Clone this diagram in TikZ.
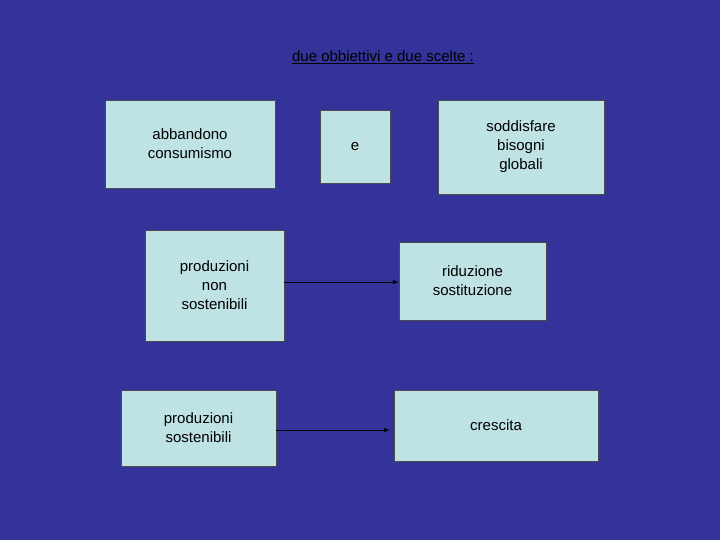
\documentclass[tikz,border=0pt]{standalone}
\usepackage{fontspec}
\setmainfont{Liberation Sans}
\definecolor{bg}{HTML}{333399}
\definecolor{boxc}{HTML}{BFE2E4}
\begin{document}
\begin{tikzpicture}[x=1pt,y=-1pt,
  bx/.style={draw=black!70,fill=boxc,line width=0.6pt,align=center,font=\fontsize{15}{19}\selectfont,inner sep=0pt},
  arr/.style={-latex,line width=0.9pt,black}]
\fill[bg] (0,0) rectangle (720,540);
\useasboundingbox (0,0) rectangle (720,540);
\node[font=\fontsize{15}{18}\selectfont] (t) at (383,57) {\underline{due obbiettivi e due scelte :}};
\node[bx,minimum width=170pt,minimum height=88pt] (a) at (190,144) {abbandono\\consumismo};
\node[bx,minimum width=70pt,minimum height=73pt] (e) at (355,146.5) {e};
\node[bx,minimum width=166pt,minimum height=94pt] (s) at (521,147) {soddisfare\\bisogni\\globali};
\node[bx,minimum width=139pt,minimum height=111pt] (pn) at (214.5,285.5) {produzioni\\non\\sostenibili};
\node[bx,minimum width=147pt,minimum height=78pt] (r) at (472.5,281) {riduzione\\sostituzione};
\node[bx,minimum width=155pt,minimum height=76pt] (ps) at (198.5,428) {produzioni\\sostenibili};
\node[bx,minimum width=204pt,minimum height=71pt] (c) at (496,425.5) {crescita};
\draw[arr] (pn.east |- 0,282) -- (r.west |- 0,282);
\draw[arr] (ps.east |- 0,430) -- ([xshift=-4pt]c.west |- 0,430);
\end{tikzpicture}
\end{document}
